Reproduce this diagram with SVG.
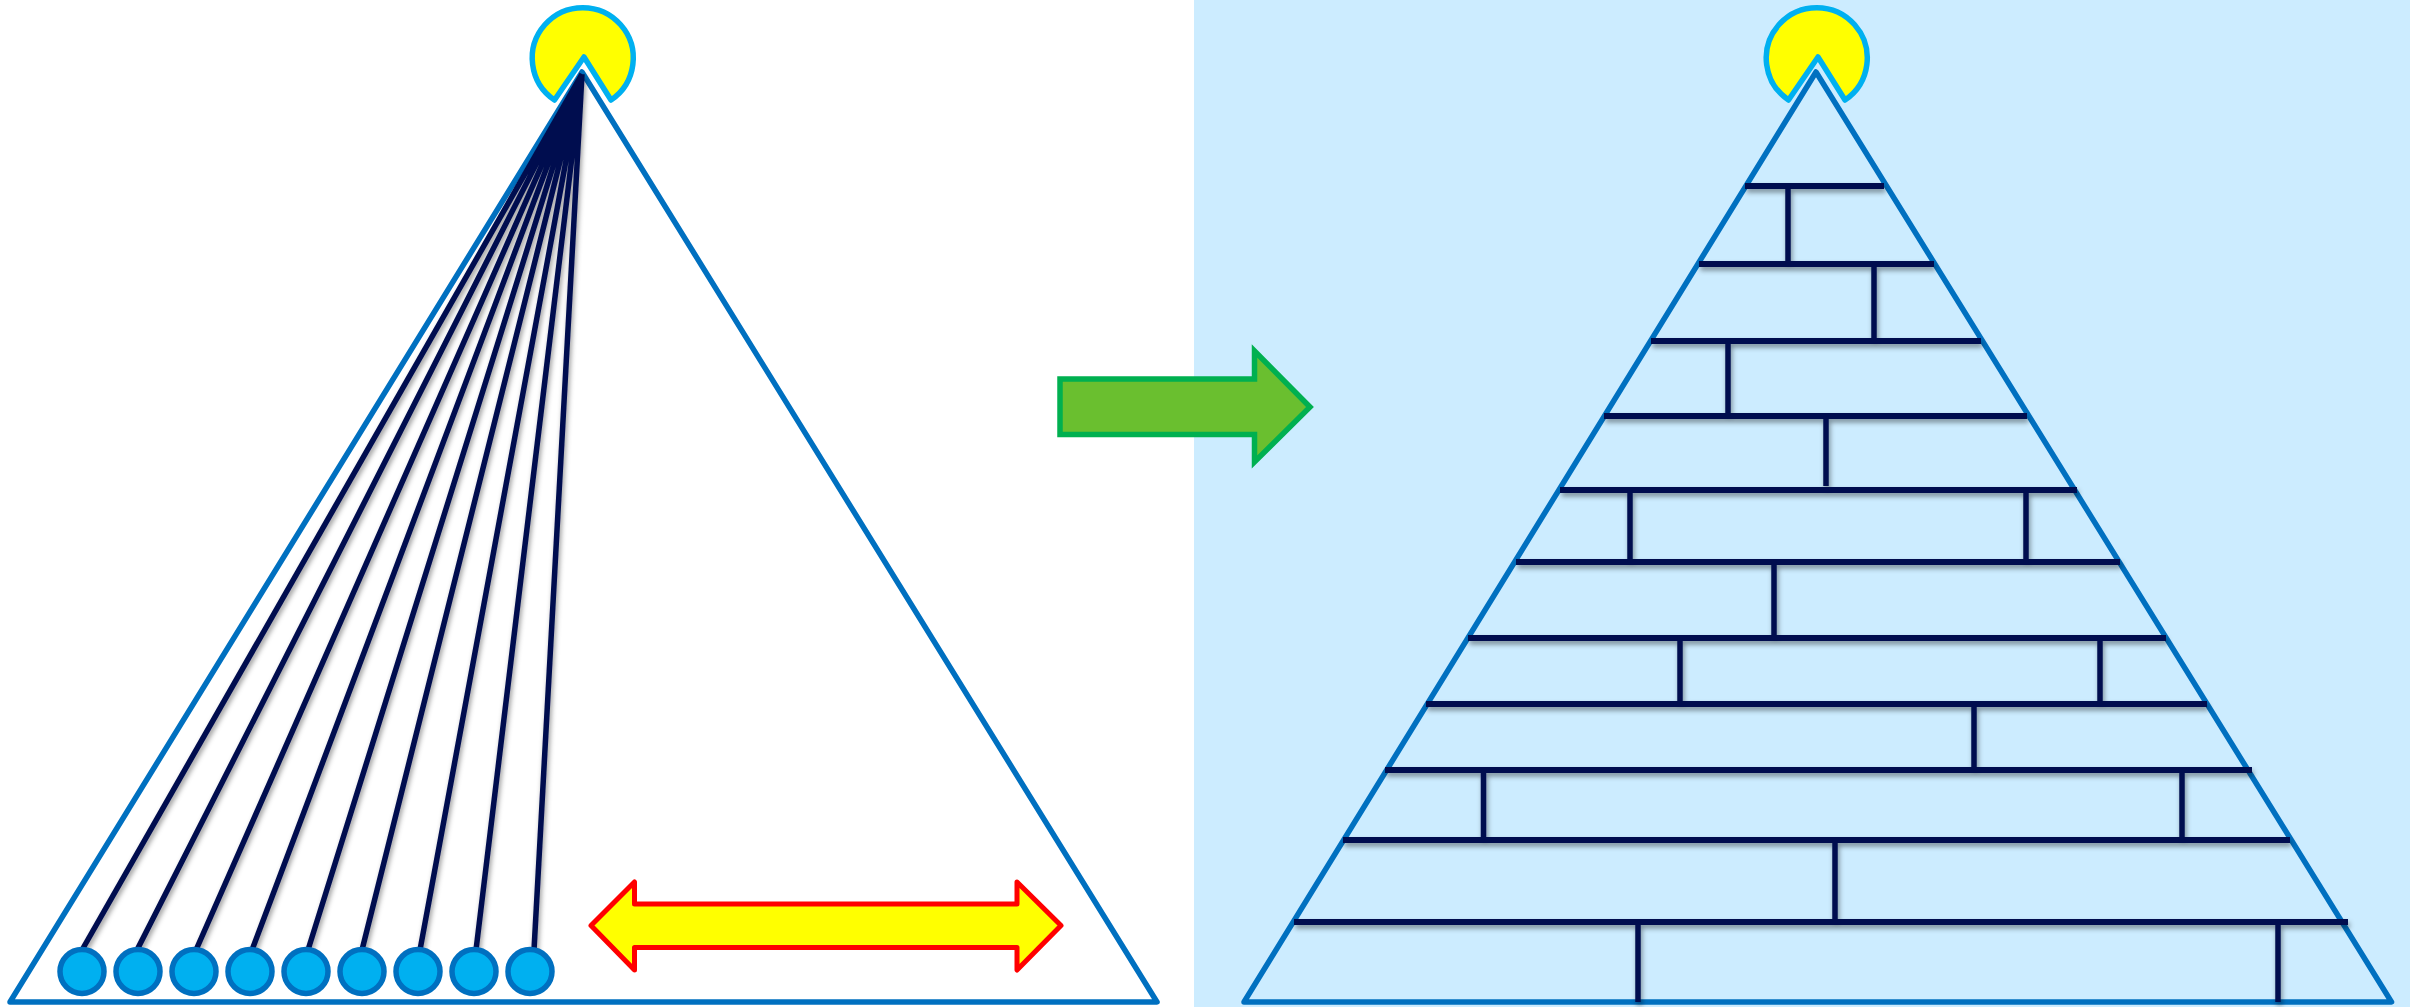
<svg xmlns="http://www.w3.org/2000/svg" width="2410" height="1007" viewBox="0 0 2410 1007">
<style>
.tri{fill:none;stroke:#0070C0;stroke-width:5.500;stroke-linejoin:round;stroke-linecap:round}
.pac{fill:#FFFF00;stroke:#00B0F0;stroke-width:5.500;stroke-linejoin:round}
.dot{fill:#00B0F0;stroke:#0070C0;stroke-width:5.500}
.wire{fill:none;stroke:#000F4F;stroke-width:6}
.stem{fill:none;stroke:#000F4F;stroke-width:5.500}
</style>
<defs>
<filter id="sh" filterUnits="userSpaceOnUse" x="0" y="0" width="2410" height="1007">
<feDropShadow dx="1.500" dy="3.500" stdDeviation="2.800" flood-color="#000" flood-opacity="0.4"/>
</filter>
</defs>
<rect id="panel" x="1194" y="0" width="1216" height="1007" fill="#CCECFF"/>
<g id="left-triangle"><path class="tri" d="M582 72L1157 1002H10Z"/></g>
<g id="left-pac"><path class="pac" d="M584 57L611 100A50.500 50.500 0 1 0 554.500 100Z"/></g>
<g id="left-connectors" filter="url(#sh)">
<path class="stem" d="M82 950L582 74M137 950L582 74M196 950L582 74M252 950L582 74M308 950L582 74M362 950L582 74M420 950L582 74M476 950L582 74M534 950L582 74"/>
</g>
<g id="left-nodes">
<ellipse class="dot" cx="82" cy="971.500" rx="22" ry="22"/>
<ellipse class="dot" cx="138" cy="971.500" rx="22" ry="22"/>
<ellipse class="dot" cx="194" cy="971.500" rx="22" ry="22"/>
<ellipse class="dot" cx="250" cy="971.500" rx="22" ry="22"/>
<ellipse class="dot" cx="306" cy="971.500" rx="22" ry="22"/>
<ellipse class="dot" cx="362" cy="971.500" rx="22" ry="22"/>
<ellipse class="dot" cx="418" cy="971.500" rx="22" ry="22"/>
<ellipse class="dot" cx="474" cy="971.500" rx="22" ry="22"/>
<ellipse class="dot" cx="530" cy="971.500" rx="22" ry="22"/>
</g>
<g id="double-arrow"><path d="M591 925.500L634.500 882V904H1017V882L1061 925.500L1017 970V947.500H634.500V970Z" fill="#FFFF00" stroke="#FF0000" stroke-width="5" stroke-linejoin="round"/></g>
<g id="green-arrow"><path d="M1060 379V434.500H1254.500V462L1310 407L1254.500 351V379Z" fill="#6ABF2F" stroke="#00B050" stroke-width="5.500"/></g>
<g id="right-triangle"><path class="tri" d="M1816 72L2391.500 1002H1244Z"/></g>
<g id="right-pac"><path class="pac" d="M1818 57L1845 100A50.500 50.500 0 1 0 1788.500 100Z"/></g>
<g id="right-connectors" filter="url(#sh)">
<path class="wire" d="M1745 186H1884M1699 264H1934M1651 341H1981M1604 416H2027M1560 490H2077M1516 562H2120M1468 638H2166M1426 704H2207M1385 770H2252M1343 840H2290M1294 922H2348"/>
<path class="stem" d="M1788 186V264M1874 264V341M1728 341V416M1826 416V486M1630 490V562M2026 490V562M1774 562V638M1680 638V704M2100 638V704M1974 704V770M1483.500 770V840M2182 770V840M1835 840V922M1638 922V1002M2278 922V1002"/>
</g>
</svg>
